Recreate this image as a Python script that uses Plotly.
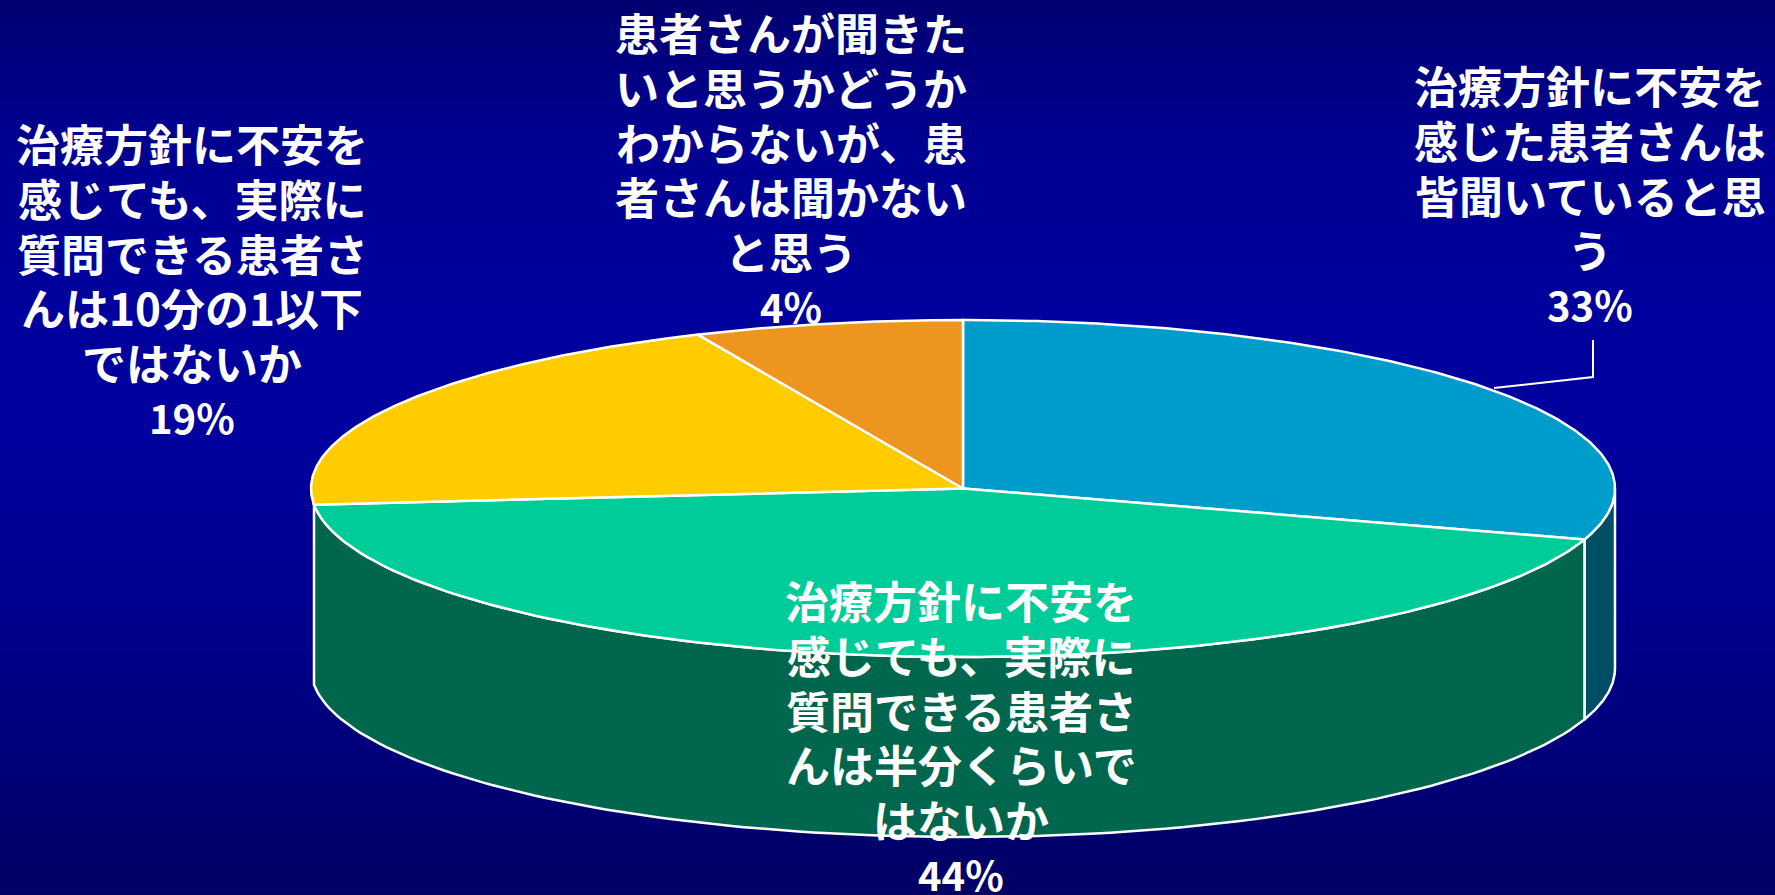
import numpy as np
import plotly.graph_objects as go

# Data
categories = [
    ["治療方針に不安を", "感じた患者さんは", "皆聞いていると思", "う"],
    ["治療方針に不安を", "感じても、実際に", "質問できる患者さ", "んは半分くらいで", "はないか"],
    ["治療方針に不安を", "感じても、実際に", "質問できる患者さ", "んは10分の1以下", "ではないか"],
    ["患者さんが聞きた", "いと思うかどうか", "わからないが、患", "者さんは聞かない", "と思う"],
]
percent_labels = [33, 44, 19, 4]
# Sweep of each slice as it appears on the tilted drawing (degrees)
drawn_sweep = [107.6, 156.9, 71.5, 24.0]
top_colors = ["#009CCC", "#00CC99", "#FFCC00", "#EE951F"]
side_colors = ["#004E66", "#00664D"]

# Layout constants
W, H = 1775, 895
CX, CY, RX, RY, DEPTH = 963, 488.5, 652, 168.5, 180
label_x = [1590, 961, 192, 791]
label_first_y = [85, 600, 143, 32]
LINE_STEP = 54.8
bg_y = [0, 60, 150, 300, 450, 600, 750, 895]
bg_blue = [112, 128, 146, 156, 156, 143, 122, 100]
leader_x = [1494, 1593, 1593]
leader_y = [388, 377, 340]


def pt(theta_deg):
    t = np.radians(np.asarray(theta_deg, dtype=float))
    return CX + RX * np.sin(t), CY - RY * np.cos(t)


fig = go.Figure()
fig.add_trace(go.Heatmap(
    x=[0, W], y=bg_y, z=[[b, b] for b in bg_blue], zmin=0, zmax=255, zsmooth="best",
    colorscale=[[0, "rgb(0,0,0)"], [1, "rgb(0,0,255)"]], showscale=False, hoverinfo="skip",
))

edges = np.concatenate([[0], np.cumsum(drawn_sweep)])

# Side wall: the rim from the right of the front round to the end of the second slice
for i, col in enumerate(side_colors):
    a, b = max(edges[i], 90), edges[i + 1]
    th = np.linspace(a, b, 120)
    x, y = pt(th)
    fig.add_trace(go.Scatter(
        x=np.concatenate([x, x[::-1], x[:1]]),
        y=np.concatenate([y, (y + DEPTH)[::-1], y[:1]]),
        mode="lines", fill="toself", fillcolor=col,
        line=dict(color="white", width=2.5), hoverinfo="skip", showlegend=False,
    ))

# Top face
for i, col in enumerate(top_colors):
    th = np.linspace(edges[i], edges[i + 1], 200)
    x, y = pt(th)
    fig.add_trace(go.Scatter(
        x=np.concatenate([[CX], x, [CX]]),
        y=np.concatenate([[CY], y, [CY]]),
        mode="lines", fill="toself", fillcolor=col,
        line=dict(color="white", width=2.5), hoverinfo="skip", showlegend=False,
    ))

# Leader line of the first label
fig.add_trace(go.Scatter(
    x=leader_x, y=leader_y, mode="lines",
    line=dict(color="white", width=2), hoverinfo="skip", showlegend=False,
))

FONT = "Noto Sans CJK JP, sans-serif"
annotations = []
for lines, pct, lx, ly in zip(categories, percent_labels, label_x, label_first_y):
    for j, line in enumerate(lines + [f"{pct}%"]):
        is_pct = j == len(lines)
        annotations.append(dict(
            x=lx, y=ly + j * LINE_STEP, xref="x", yref="y", text=f"<b>{line}</b>",
            showarrow=False, xanchor="center", yanchor="middle",
            font=dict(family=FONT, size=40 if is_pct else 44, color="white"),
        ))

fig.update_layout(
    width=W, height=H, margin=dict(l=0, r=0, t=0, b=0),
    paper_bgcolor="#00008C", plot_bgcolor="#00008C", showlegend=False,
    xaxis=dict(range=[0, W], visible=False, fixedrange=True),
    yaxis=dict(range=[H, 0], visible=False, fixedrange=True),
    annotations=annotations,
)
fig.write_html("out.html", config=dict(displayModeBar=False),
               post_script="document.body.style.margin='0';document.body.style.overflow='hidden';")
